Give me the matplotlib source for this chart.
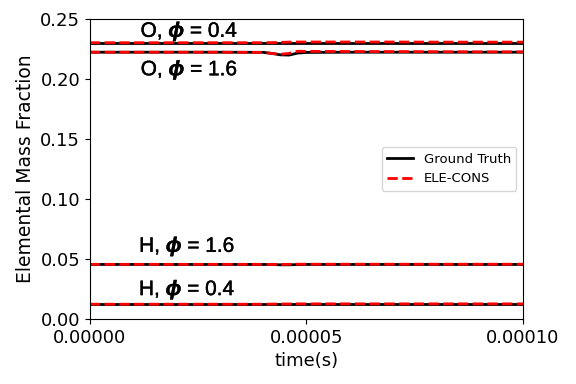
import matplotlib
matplotlib.use("Agg")
import matplotlib.pyplot as plt
import matplotlib.patheffects as pe
import numpy as np

plt.rcParams['font.family'] = ['DejaVu Sans']
plt.rcParams['mathtext.fontset'] = 'custom'
plt.rcParams['mathtext.rm'] = 'Liberation Sans'
plt.rcParams['mathtext.it'] = 'Liberation Sans:italic'
plt.rcParams['mathtext.bf'] = 'Liberation Sans:bold'
plt.rcParams['mathtext.bfit'] = 'Liberation Sans:italic:bold'

time = [0.0, 1e-5, 2e-5, 3e-5, 4e-5, 4.2e-5, 4.4e-5, 4.6e-5, 4.8e-5, 5e-5, 6e-5, 7e-5, 8e-5, 9e-5, 1e-4]

gt_O04 = [0.2300, 0.2300, 0.2300, 0.2300, 0.2300, 0.2300, 0.2300, 0.2300, 0.2300, 0.2300, 0.2300, 0.2300, 0.2300, 0.2300, 0.2300]
ec_O04 = [0.2301, 0.2301, 0.2301, 0.2301, 0.2301, 0.2302, 0.2304, 0.2306, 0.2307, 0.2307, 0.2307, 0.2307, 0.2306, 0.2306, 0.2306]
gt_O16 = [0.2222, 0.2222, 0.2222, 0.2222, 0.2221, 0.2212, 0.2200, 0.2198, 0.2215, 0.2220, 0.2222, 0.2222, 0.2222, 0.2222, 0.2222]
ec_O16 = [0.2222, 0.2222, 0.2222, 0.2222, 0.2220, 0.2212, 0.2205, 0.2212, 0.2230, 0.2229, 0.2228, 0.2227, 0.2226, 0.2225, 0.2225]
gt_H16 = [0.0455, 0.0455, 0.0455, 0.0455, 0.0455, 0.0454, 0.0452, 0.0452, 0.0454, 0.0455, 0.0455, 0.0455, 0.0455, 0.0455, 0.0455]
ec_H16 = [0.0456, 0.0456, 0.0456, 0.0456, 0.0456, 0.0455, 0.0455, 0.0456, 0.0457, 0.0457, 0.0457, 0.0457, 0.0457, 0.0457, 0.0457]
gt_H04 = [0.0123, 0.0123, 0.0123, 0.0123, 0.0123, 0.0123, 0.0123, 0.0123, 0.0123, 0.0123, 0.0123, 0.0123, 0.0123, 0.0123, 0.0123]
ec_H04 = [0.0124, 0.0124, 0.0124, 0.0124, 0.0124, 0.0125, 0.0126, 0.0126, 0.0127, 0.0127, 0.0127, 0.0127, 0.0127, 0.0127, 0.0127]

labels = ["O, $\\boldsymbol{\\phi}$ = 0.4", "O, $\\boldsymbol{\\phi}$ = 1.6",
          "H, $\\boldsymbol{\\phi}$ = 1.6", "H, $\\boldsymbol{\\phi}$ = 0.4"]
label_x = [2.3e-5, 2.3e-5, 2.25e-5, 2.25e-5]
label_y = [0.2395, 0.2075, 0.0605, 0.0245]

fig = plt.figure(figsize=(5.76, 3.84), dpi=100)
ax = fig.add_axes([0.156, 0.169, 0.752, 0.782])

gts = [gt_O04, gt_O16, gt_H16, gt_H04]
ecs = [ec_O04, ec_O16, ec_H16, ec_H04]
for i, (g, e) in enumerate(zip(gts, ecs)):
    ax.plot(time, g, color='black', lw=2, label='Ground Truth' if i == 0 else None)
    ax.plot(time, e, color='red', lw=2, ls='--', label='ELE-CONS' if i == 0 else None)

for txt, x, y in zip(labels, label_x, label_y):
    ax.text(x, y, txt, fontsize=15, ha='center', va='center', family='Liberation Sans',
            path_effects=[pe.withStroke(linewidth=0.3, foreground='black')])

ax.set_xlim(0, 1e-4)
ax.set_ylim(0, 0.25)
ax.set_xticks([0, 5e-5, 1e-4])
ax.set_xticklabels(["0.00000", "0.00005", "0.00010"])
ax.set_yticks([0, 0.05, 0.10, 0.15, 0.20, 0.25])
ax.set_yticklabels(["0.00", "0.05", "0.10", "0.15", "0.20", "0.25"])
ax.tick_params(labelsize=13)
ax.set_xlabel("time(s)", fontsize=13)
ax.set_ylabel("Elemental Mass Fraction", fontsize=13.5)
ax.legend(loc='center right', fontsize=9.5)

fig.savefig("out.png", dpi=100)
